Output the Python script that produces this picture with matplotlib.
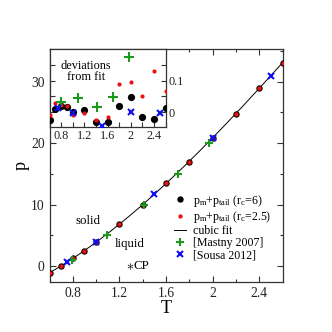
import numpy as np
import matplotlib
matplotlib.use("Agg")
import matplotlib.pyplot as plt
from matplotlib.ticker import MultipleLocator, FixedLocator, FixedFormatter

plt.rcParams['font.family'] = ['Liberation Serif', 'DejaVu Serif']
plt.rcParams['mathtext.fontset'] = 'custom'
plt.rcParams['mathtext.rm'] = 'Liberation Serif'
plt.rcParams['mathtext.it'] = 'Liberation Serif'

# ---- data ----
T_rc6 = [0.6, 0.7, 0.8, 0.9, 1.0, 1.2, 1.4, 1.6, 1.8, 2.0, 2.2, 2.4, 2.6]
p_rc6 = [-1.08, 0.0, 1.25, 2.5, 3.9, 6.8, 9.95, 13.5, 17.0, 20.9, 24.8, 28.9, 33.1]
p_rc25 = [-1.08, 0.0, 1.25, 2.5, 3.9, 6.8, 9.95, 13.5, 17.0, 20.9, 24.8, 28.9, 33.1]

T_mastny = [0.79, 1.09, 1.41, 1.70, 1.97]
p_mastny = [1.0, 5.0, 10.0, 15.0, 20.0]

T_sousa = [0.75, 1.0, 1.5, 2.0, 2.5]
p_sousa = [0.65, 3.9, 11.8, 20.9, 30.9]

cp_T = [1.29]
cp_p = [0.0]

# deviations from fit (inset)
dev_rc6 = [-0.025, 0.010, 0.020, 0.016, 0.000, 0.006, -0.031, -0.031, 0.020, 0.049, -0.014, -0.020, 0.012]
dev_rc25 = [-0.010, 0.029, 0.022, 0.020, -0.008, -0.001, -0.025, -0.016, 0.090, 0.095, 0.050, 0.132, 0.069]
dev_mastny = [0.034, 0.045, 0.016, 0.048, 0.176]
dev_sousa = [0.013, -0.004, -0.044, 0.001, -0.003]

x_ticks = [0.8, 1.2, 1.6, 2.0, 2.4]
x_ticklabels = ['0.8', '1.2', '1.6', '2', '2.4']
inset_y_ticks = [0.0, 0.1]
inset_y_ticklabels = ['0', '0.1']

spine_col = '#333333'
green = '#1a9a1a'
blue = '#1010ee'
red = '#ee1010'
fs = 8.3

fig = plt.figure(figsize=(3.32, 3.32), dpi=100)
ax = fig.add_axes([49.5/332, (332-282.3)/332, (282.5-49.5)/332, (282.3-49.3)/332])

# cubic fit from the rc=6 data
coef = np.polyfit(T_rc6, p_rc6, 3)
Tf = np.linspace(0.6, 2.6, 200)
ax.plot(Tf, np.polyval(coef, Tf), color='black', lw=0.7, zorder=2, label='cubic fit')

ax.plot(T_rc6, p_rc6, 'o', color='black', ms=4.6, mew=0, zorder=3,
        label=r'p$_{\rm m}$+p$_{\rm tail}$ (r$_{\rm c}$=6)')
ax.plot(T_rc6, p_rc25, 'o', color=red, ms=3.1, mew=0, zorder=4,
        label=r'p$_{\rm m}$+p$_{\rm tail}$ (r$_{\rm c}$=2.5)')
ax.plot(T_mastny, p_mastny, '+', color=green, ms=6, mew=1.5, zorder=5, label='[Mastny 2007]')
ax.plot(T_sousa, p_sousa, 'x', color=blue, ms=4.5, mew=1.5, zorder=6, label='[Sousa 2012]')
ax.plot(cp_T, cp_p, marker=r'$\ast$', color='black', ms=4.5, mew=0, ls='none', zorder=6)

ax.set_xlim(0.6, 2.6)
ax.set_ylim(-2.65, 35.27)
ax.xaxis.set_major_locator(FixedLocator(x_ticks))
ax.xaxis.set_major_formatter(FixedFormatter(x_ticklabels))
ax.xaxis.set_minor_locator(MultipleLocator(0.2))
ax.yaxis.set_major_locator(MultipleLocator(10))
ax.yaxis.set_minor_locator(MultipleLocator(5))
ax.tick_params(which='both', direction='in', top=True, right=True, colors=spine_col,
               labelcolor='#222222', labelsize=fs + 1.5)
ax.tick_params(which='major', length=4, width=0.8)
ax.tick_params(which='minor', length=2.5, width=0.8)
for s in ax.spines.values():
    s.set_color(spine_col)
    s.set_linewidth(0.9)

ax.set_xlabel('T', fontsize=13, labelpad=0)
ax.set_ylabel('p', fontsize=13, labelpad=1)

ax.text(0.931, 7.33, 'solid', fontsize=fs + 1, ha='center', va='center')
ax.text(1.287, 3.58, 'liquid', fontsize=fs + 1, ha='center', va='center')
ax.text(1.325, 0.0, 'CP', fontsize=fs + 1, ha='left', va='center')

handles, labels = ax.get_legend_handles_labels()
order = [1, 2, 0, 3, 4]
ax.legend([handles[i] for i in order], [labels[i] for i in order],
          loc='upper left', bbox_to_anchor=(0.536, 0.385), frameon=False,
          fontsize=fs + 0.3, handlelength=1.0, handletextpad=0.6,
          labelspacing=0.02, borderpad=0, borderaxespad=0)

# ---- inset ----
ins = fig.add_axes([49.5/332, (332-127)/332, (165.7-49.5)/332, (127-49.3)/332])
ins.set_facecolor('white')
ins.plot(T_rc6, dev_rc6, 'o', color='black', ms=5.2, mew=0, zorder=3)
ins.plot(T_rc6, dev_rc25, 'o', color=red, ms=3.0, mew=0, zorder=4)
ins.plot(T_mastny, dev_mastny, '+', color=green, ms=6.5, mew=1.5, zorder=5)
ins.plot(T_sousa, dev_sousa, 'x', color=blue, ms=4.5, mew=1.5, zorder=6)
ins.set_xlim(0.6, 2.6)
ins.set_ylim(-0.047, 0.2)
ins.xaxis.set_major_locator(FixedLocator(x_ticks))
ins.xaxis.set_major_formatter(FixedFormatter(x_ticklabels))
ins.xaxis.set_minor_locator(MultipleLocator(0.2))
ins.yaxis.set_major_locator(FixedLocator(inset_y_ticks))
ins.yaxis.set_major_formatter(FixedFormatter(inset_y_ticklabels))
ins.yaxis.set_minor_locator(FixedLocator([0.05, 0.15]))
ins.yaxis.tick_right()
ins.yaxis.set_ticks_position('both')
ins.tick_params(which='both', direction='in', colors=spine_col, labelcolor='#222222',
                labelsize=fs + 0.5, pad=2, labelleft=False, labelright=True)
ins.tick_params(which='major', length=3.5, width=0.8)
ins.tick_params(which='minor', length=3.5, width=0.8)
for s in ins.spines.values():
    s.set_color(spine_col)
    s.set_linewidth(0.9)
ins.text(1.23, 0.129, 'deviations\nfrom fit', fontsize=fs + 0.5, ha='center', va='center',
         linespacing=0.95)

fig.savefig('out.png', dpi=100)
